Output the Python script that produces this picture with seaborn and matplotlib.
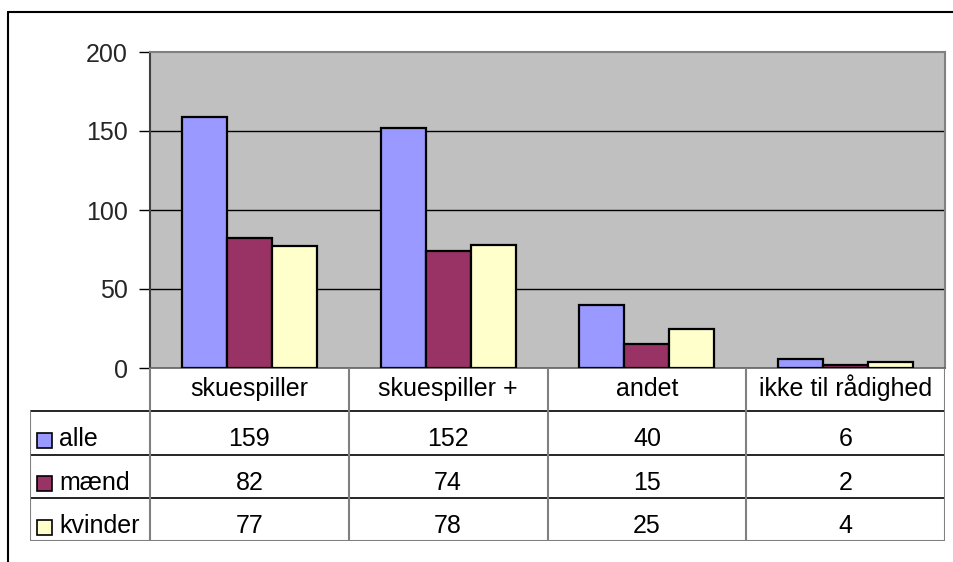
import pandas as pd
import matplotlib.pyplot as plt
from matplotlib.lines import Line2D
from matplotlib.patches import Rectangle
import seaborn as sns

# Data
kategorier = ['skuespiller', 'skuespiller +', 'andet', 'ikke til rådighed']
grupper = ['alle', 'mænd', 'kvinder']
alle = [159, 152, 40, 6]
maend = [82, 74, 15, 2]
kvinder = [77, 78, 25, 4]
farver = ['#9999FF', '#993366', '#FFFFCC']
yticks = [0, 50, 100, 150, 200]

rows = []
for g, vals in zip(grupper, [alle, maend, kvinder]):
    for k, v in zip(kategorier, vals):
        rows.append({'kategori': k, 'gruppe': g, 'antal': v})
df = pd.DataFrame(rows)

sns.set_theme(style='white')
plt.rcParams['font.family'] = ['Liberation Sans', 'DejaVu Sans']
fs = 18

W, H = 954, 562
fig = plt.figure(figsize=(W / 100, H / 100), dpi=100)
fig.patch.set_facecolor('white')

# Main bar chart area
ax = fig.add_axes([150 / W, (H - 368) / H, 795 / W, 316 / H])
ax.set_facecolor('#C0C0C0')
sns.barplot(data=df, x='kategori', y='antal', hue='gruppe', order=kategorier,
            hue_order=grupper, palette=farver, width=0.68, edgecolor='black',
            linewidth=1.6, saturation=1, legend=False, ax=ax, zorder=3)
ax.set_xlim(-0.5, 3.5)
ax.set_ylim(0, 200)
ax.set_yticks(yticks)
ax.set_yticklabels([str(t) for t in yticks], fontsize=fs)
for t in yticks[1:-1]:
    ax.axhline(t, color='black', linewidth=1, zorder=1)
ax.set_xticks([])
ax.set_xlabel('')
ax.set_ylabel('')
ax.tick_params(axis='y', direction='out', length=8, width=1, color='black',
               pad=8, left=True)
for side in ['top', 'right']:
    ax.spines[side].set_color('#808080')
    ax.spines[side].set_linewidth(1.5)
ax.spines['left'].set_color('#404040')
ax.spines['left'].set_linewidth(1.5)
ax.spines['bottom'].set_color('#606060')
ax.spines['bottom'].set_linewidth(1.2)

# Data table below chart
px = 198.75          # pixels per category unit
rh = 43.25           # pixels per table row
tx0 = -0.5 - 120 / px
tab = fig.add_axes([30 / W, (H - 541) / H, 915 / W, 173 / H])
tab.set_xlim(tx0, 3.5)
tab.set_ylim(4, 0)
tab.axis('off')

for i, k in enumerate(kategorier):
    tab.text(i, 0.65, k, ha='center', va='baseline', fontsize=fs,
             color='black')
for r, (g, vals) in enumerate(zip(grupper, [alle, maend, kvinder]), start=1):
    for i, v in enumerate(vals):
        tab.text(i, r + 0.81, str(v), ha='center', va='baseline', fontsize=fs,
                 color='black')
    sq = 15
    tab.add_patch(Rectangle((tx0 + 7 / px, r + 0.68 - sq / rh / 2), sq / px,
                            sq / rh, facecolor=farver[r - 1],
                            edgecolor='black', linewidth=1.2))
    tab.text(tx0 + 29 / px, r + 0.81, g, ha='left', va='baseline',
             fontsize=fs, color='black')

# table grid lines
for r in [1, 2, 3]:
    tab.plot([tx0, 3.5], [r, r], color='black', linewidth=1.2)
tab.plot([tx0, 3.5], [4, 4], color='#808080', linewidth=1.5)
tab.plot([tx0, tx0], [1, 4], color='#808080', linewidth=1.5)
for xv in [-0.5, 0.5, 1.5, 2.5, 3.5]:
    tab.plot([xv, xv], [0, 4], color='#808080', linewidth=1.5)

# outer chart frame (cropped)
fig.add_artist(Line2D([8 / W, 8 / W], [0, (H - 12) / H], color='black',
                      linewidth=1.5, transform=fig.transFigure))
fig.add_artist(Line2D([8 / W, 1], [(H - 12) / H, (H - 12) / H], color='black',
                      linewidth=1.5, transform=fig.transFigure))

fig.savefig('out.png', dpi=100)
